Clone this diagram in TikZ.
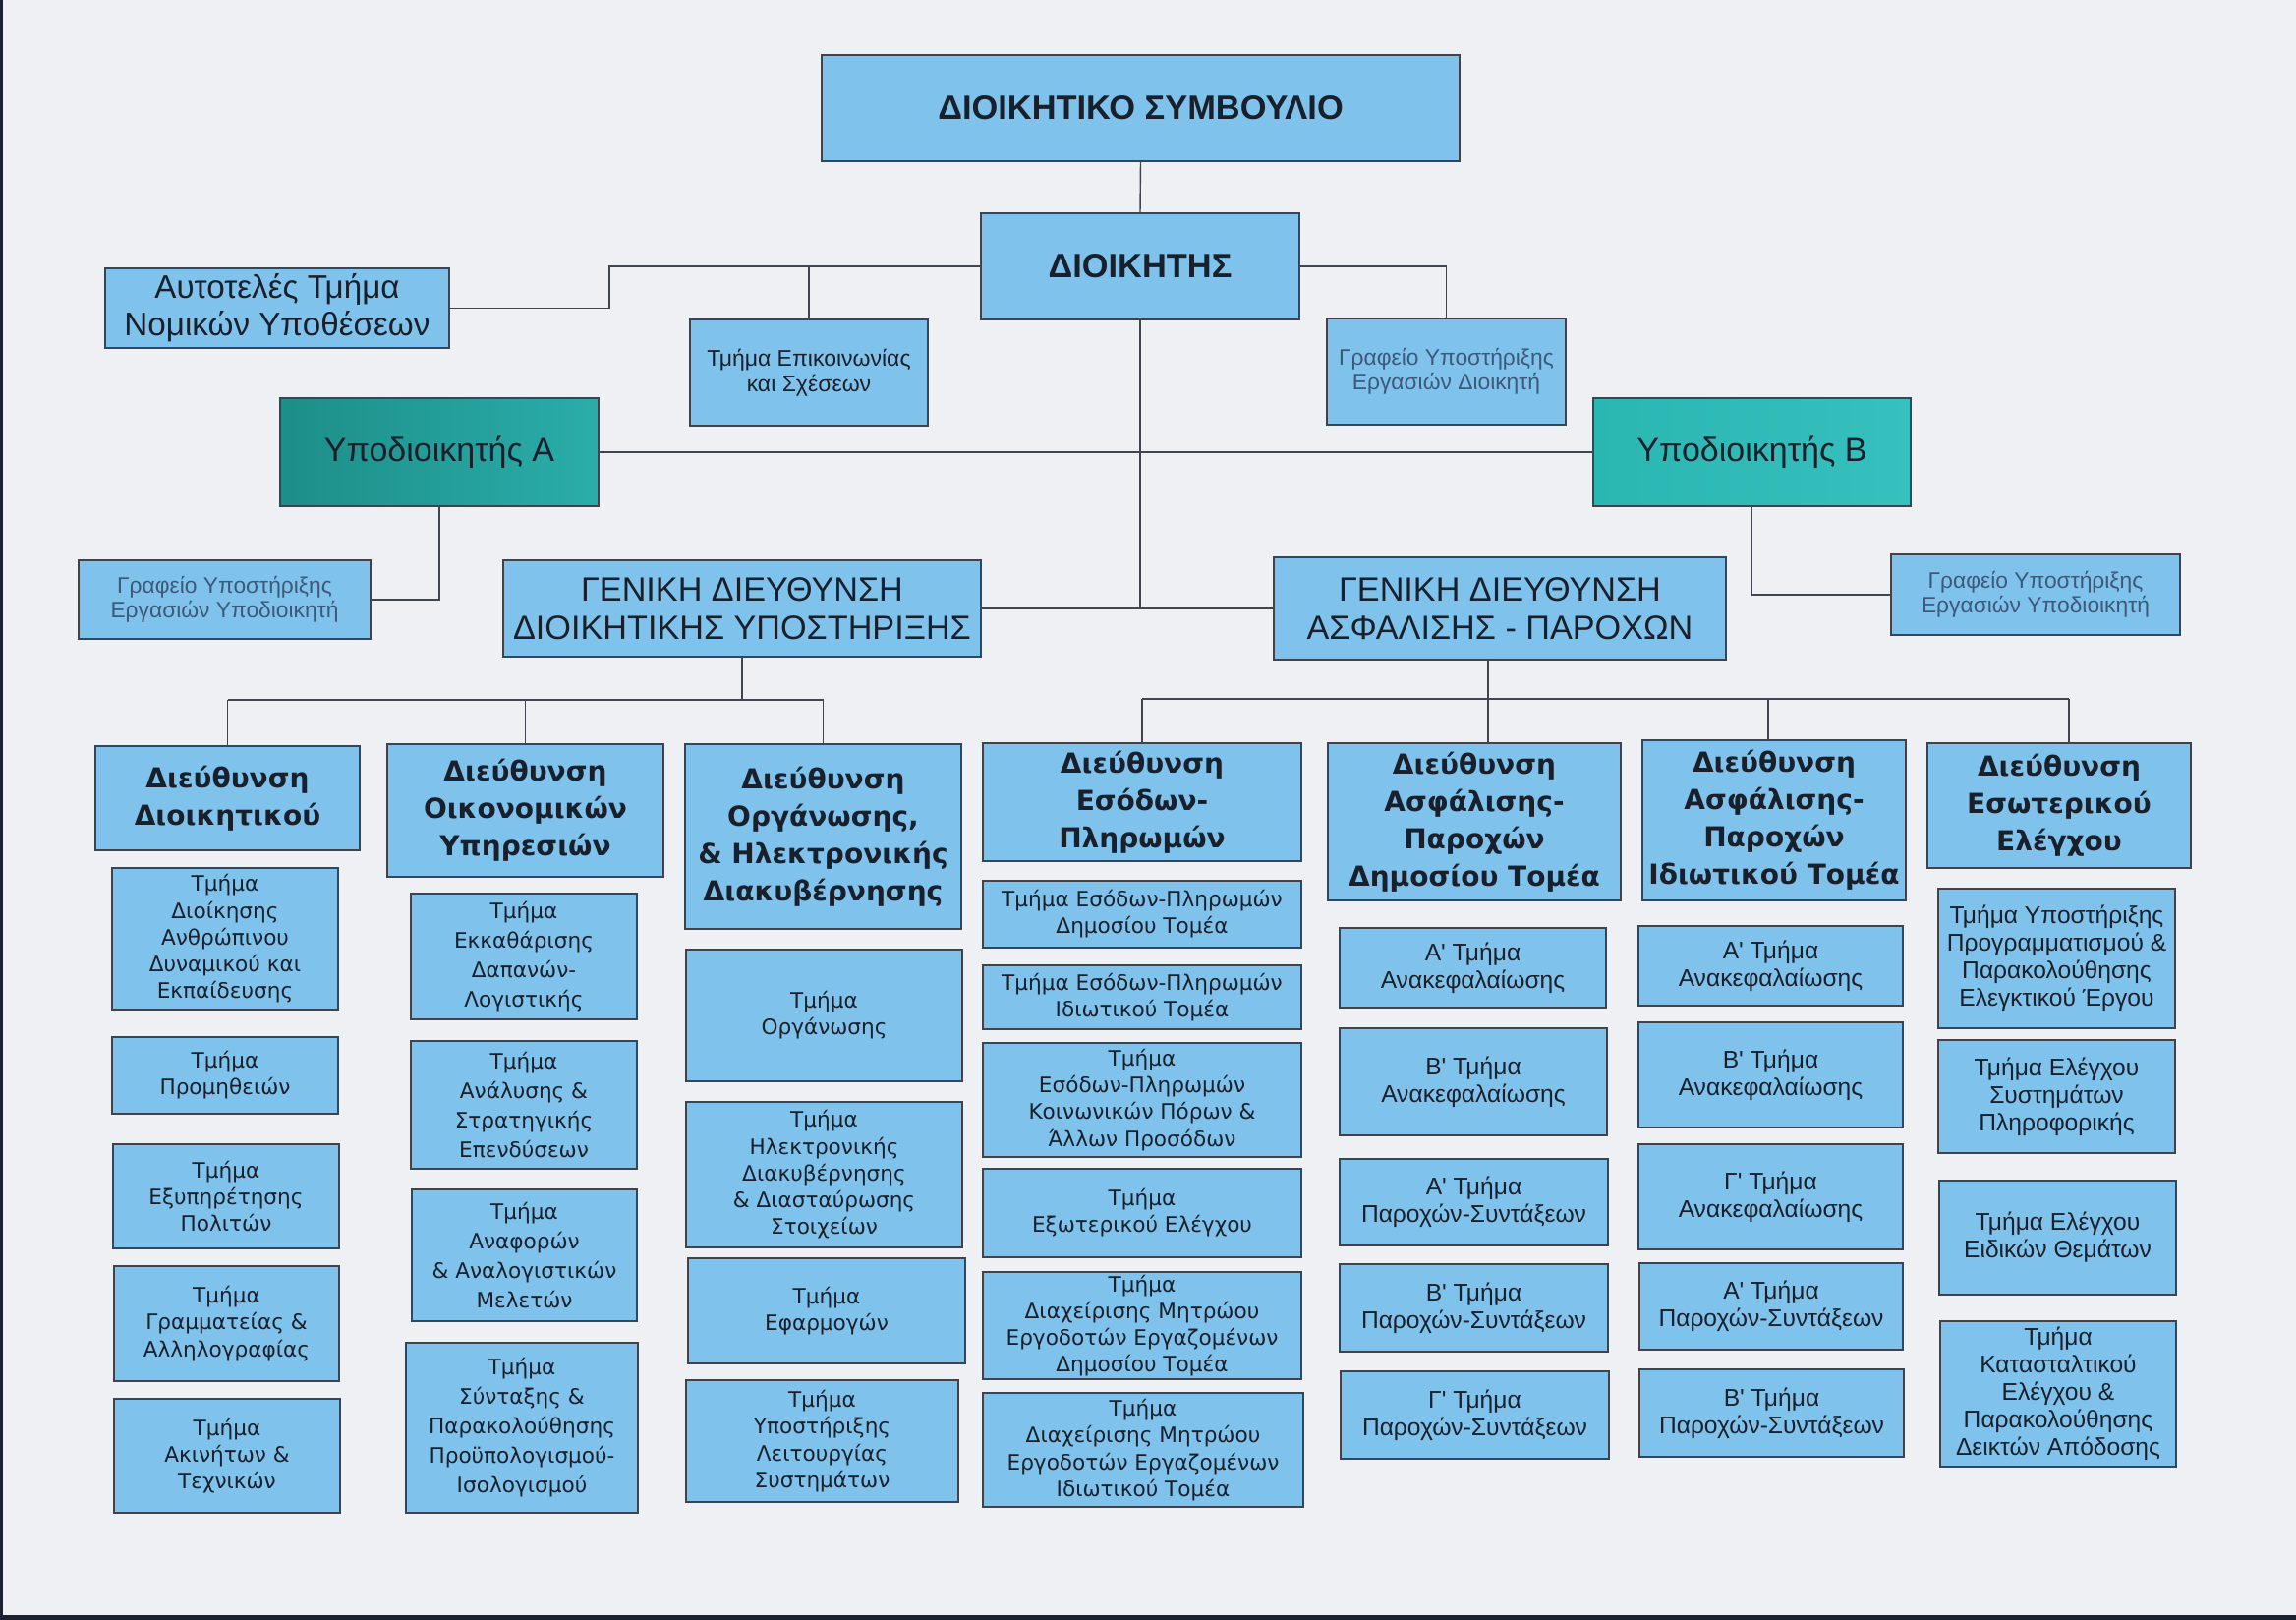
\documentclass[tikz,border=0pt]{standalone}
\usepackage{fontspec}
\setmainfont{Liberation Sans}[Ligatures=TeXOff]
\newfontfamily\dv{DejaVu Sans}[Ligatures=TeXOff]
\definecolor{bg}{HTML}{EEF0F4}
\definecolor{boxblue}{HTML}{7FC3EC}
\definecolor{bord}{HTML}{3C4450}
\definecolor{lnc}{HTML}{3F4650}
\definecolor{txt}{HTML}{1A202B}
\definecolor{graytxt}{HTML}{3D5878}
\definecolor{edge}{HTML}{1C2230}
\definecolor{ta1}{HTML}{1D8E88}
\definecolor{ta2}{HTML}{2AADAA}
\definecolor{tb1}{HTML}{2AB6B1}
\definecolor{tb2}{HTML}{36C0BE}
\tikzset{
  bx/.style={draw=bord, line width=0.8pt, fill=boxblue, inner sep=0pt, outer sep=0pt, align=center, text=txt},
  ln/.style={draw=lnc, line width=0.7pt},
  topb/.style={bx, font=\bfseries\fontsize{17.2}{19}\selectfont},
  gen/.style={bx, font=\fontsize{17.1}{19.5}\selectfont},
  aut/.style={bx, font=\fontsize{16.6}{19}\selectfont},
  small/.style={bx, font=\fontsize{11.5}{12.9}\selectfont},
  graf/.style={bx, text=graytxt, font=\fontsize{11.4}{12.7}\selectfont},
  ypod/.style={bx, font=\fontsize{17}{19}\selectfont},
  dir/.style={bx, font=\dv\bfseries\fontsize{14}{19}\selectfont},
  depv/.style={bx, font=\dv\fontsize{10.8}{13.6}\selectfont},
  depw/.style={bx, font=\dv\fontsize{10.8}{15}\selectfont},
  depa/.style={bx, font=\fontsize{12.3}{14}\selectfont},
}
% \bx[style]{name}{x1}{y1}{x2}{y2}{text}
\newcommand\bx[7][]{%
  \node[#1, minimum width={(#5-#3)*0.5pt}, minimum height={(#6-#4)*0.5pt}]
    (#2) at ({(#3+#5)/2},{(#4+#6)/2}) {#7};}
\begin{document}
\begin{tikzpicture}[x=0.5pt,y=-0.5pt]
\useasboundingbox (0,0) rectangle (2336,1648);
\fill[bg] (0,0) rectangle (2336,1648);
\fill[edge] (0,0) rectangle (3,1648);
\fill[edge] (0,1643) rectangle (2336,1648);

% top level
\bx[topb]{ds}{836}{56}{1485}{164}{ΔΙΟΙΚΗΤΙΚΟ ΣΥΜΒΟΥΛΙΟ}
\bx[topb]{dk}{998}{217}{1322}{325}{ΔΙΟΙΚΗΤΗΣ}
\bx[aut]{aut}{107}{273}{457}{354}{Αυτοτελές Τμήμα\\Νομικών Υποθέσεων}
\bx[small]{epik}{702}{325}{944}{433}{Τμήμα Επικοινωνίας\\και Σχέσεων}
\bx[graf]{gfd}{1350}{324}{1593}{432}{Γραφείο Υποστήριξης\\Εργασιών Διοικητή}
\bx[ypod, left color=ta1, right color=ta2]{ya}{285}{405}{609}{515}{Υποδιοικητής Α}
\bx[ypod, left color=tb1, right color=tb2]{yb}{1621}{405}{1944}{515}{Υποδιοικητής Β}
\bx[graf]{gfa}{80}{570}{377}{650}{Γραφείο Υποστήριξης\\Εργασιών Υποδιοικητή}
\bx[graf]{gfb}{1924}{564}{2218}{646}{Γραφείο Υποστήριξης\\Εργασιών Υποδιοικητή}
\bx[gen]{gda}{512}{570}{998}{668}{ΓΕΝΙΚΗ ΔΙΕΥΘΥΝΣΗ\\ΔΙΟΙΚΗΤΙΚΗΣ ΥΠΟΣΤΗΡΙΞΗΣ}
\bx[gen]{gdb}{1296}{567}{1756}{671}{ΓΕΝΙΚΗ ΔΙΕΥΘΥΝΣΗ\\ΑΣΦΑΛΙΣΗΣ - ΠΑΡΟΧΩΝ}

% directorates
\bx[dir]{D1}{97}{759}{366}{865}{Διεύθυνση\\Διοικητικού}
\bx[dir]{D2}{394}{757}{675}{892}{Διεύθυνση\\Οικονομικών\\Υπηρεσιών}
\bx[dir]{D3}{697}{757}{978}{945}{Διεύθυνση\\Οργάνωσης,\\\& Ηλεκτρονικής\\Διακυβέρνησης}
\bx[dir]{D4}{1000}{756}{1324}{876}{Διεύθυνση\\Εσόδων-\\Πληρωμών}
\bx[dir]{D5}{1351}{756}{1649}{916}{Διεύθυνση\\Ασφάλισης-\\Παροχών\\Δημοσίου Τομέα}
\bx[dir]{D6}{1671}{753}{1939}{916}{Διεύθυνση\\Ασφάλισης-\\Παροχών\\Ιδιωτικού Τομέα}
\bx[dir]{D7}{1961}{756}{2229}{883}{Διεύθυνση\\Εσωτερικού\\Ελέγχου}

% column 1
\bx[depv]{d1a}{114}{883}{344}{1027}{Τμήμα\\Διοίκησης\\Ανθρώπινου\\Δυναμικού και\\Εκπαίδευσης}
\bx[depv]{d1b}{114}{1055}{344}{1133}{Τμήμα\\Προμηθειών}
\bx[depv]{d1c}{115}{1164}{345}{1270}{Τμήμα\\Εξυπηρέτησης\\Πολιτών}
\bx[depv]{d1d}{116}{1288}{345}{1405}{Τμήμα\\Γραμματείας \&\\Αλληλογραφίας}
\bx[depv]{d1e}{116}{1423}{346}{1539}{Τμήμα\\Ακινήτων \&\\Τεχνικών}
% column 2
\bx[depw]{d2a}{418}{909}{648}{1037}{Τμήμα\\Εκκαθάρισης\\Δαπανών-\\Λογιστικής}
\bx[depw]{d2b}{418}{1059}{648}{1189}{Τμήμα\\Ανάλυσης \&\\Στρατηγικής\\Επενδύσεων}
\bx[depw]{d2c}{419}{1210}{648}{1344}{Τμήμα\\Αναφορών\\\& Αναλογιστικών\\Μελετών}
\bx[depw]{d2d}{413}{1366}{649}{1539}{Τμήμα\\Σύνταξης \&\\Παρακολούθησης\\Προϋπολογισμού-\\Ισολογισμού}
% column 3
\bx[depv]{d3a}{698}{966}{979}{1100}{Τμήμα\\Οργάνωσης}
\bx[depv]{d3b}{698}{1121}{979}{1269}{Τμήμα\\Ηλεκτρονικής\\Διακυβέρνησης\\\& Διασταύρωσης\\Στοιχείων}
\bx[depv]{d3c}{700}{1280}{982}{1387}{Τμήμα\\Εφαρμογών}
\bx[depv]{d3d}{698}{1404}{975}{1528}{Τμήμα\\Υποστήριξης\\Λειτουργίας\\Συστημάτων}
% column 4
\bx[depv]{d4a}{1000}{896}{1324}{964}{Τμήμα Εσόδων-Πληρωμών\\Δημοσίου Τομέα}
\bx[depv]{d4b}{1000}{982}{1324}{1047}{Τμήμα Εσόδων-Πληρωμών\\Ιδιωτικού Τομέα}
\bx[depv]{d4c}{1000}{1061}{1324}{1177}{Τμήμα\\Εσόδων-Πληρωμών\\Κοινωνικών Πόρων \&\\Άλλων Προσόδων}
\bx[depv]{d4d}{1000}{1189}{1324}{1279}{Τμήμα\\Εξωτερικού Ελέγχου}
\bx[depv]{d4e}{1000}{1294}{1324}{1403}{Τμήμα\\Διαχείρισης Μητρώου\\Εργοδοτών Εργαζομένων\\Δημοσίου Τομέα}
\bx[depv]{d4f}{1000}{1417}{1326}{1533}{Τμήμα\\Διαχείρισης Μητρώου\\Εργοδοτών Εργαζομένων\\Ιδιωτικού Τομέα}
% column 5
\bx[depa]{d5a}{1363}{944}{1634}{1025}{Α' Τμήμα\\Ανακεφαλαίωσης}
\bx[depa]{d5b}{1363}{1046}{1635}{1155}{Β' Τμήμα\\Ανακεφαλαίωσης}
\bx[depa]{d5c}{1363}{1179}{1636}{1267}{Α' Τμήμα\\Παροχών-Συντάξεων}
\bx[depa]{d5d}{1363}{1286}{1636}{1375}{Β' Τμήμα\\Παροχών-Συντάξεων}
\bx[depa]{d5e}{1364}{1395}{1637}{1484}{Γ' Τμήμα\\Παροχών-Συντάξεων}
% column 6
\bx[depa]{d6a}{1667}{942}{1936}{1023}{Α' Τμήμα\\Ανακεφαλαίωσης}
\bx[depa]{d6b}{1667}{1040}{1936}{1147}{Β' Τμήμα\\Ανακεφαλαίωσης}
\bx[depa]{d6c}{1667}{1164}{1936}{1271}{Γ' Τμήμα\\Ανακεφαλαίωσης}
\bx[depa]{d6d}{1668}{1285}{1936}{1373}{Α' Τμήμα\\Παροχών-Συντάξεων}
\bx[depa]{d6e}{1668}{1393}{1937}{1482}{Β' Τμήμα\\Παροχών-Συντάξεων}
% column 7
\bx[depa]{d7a}{1972}{904}{2213}{1046}{Τμήμα Υποστήριξης\\Προγραμματισμού \&\\Παρακολούθησης\\Ελεγκτικού Έργου}
\bx[depa]{d7b}{1972}{1058}{2213}{1173}{Τμήμα Ελέγχου\\Συστημάτων\\Πληροφορικής}
\bx[depa]{d7c}{1973}{1201}{2214}{1317}{Τμήμα Ελέγχου\\Ειδικών Θεμάτων}
\bx[depa]{d7d}{1974}{1344}{2214}{1492}{Τμήμα\\Κατασταλτικού\\Ελέγχου \&\\Παρακολούθησης\\Δεικτών Απόδοσης}

% connectors (top)
\coordinate (j1) at (620,271);
\coordinate (tr) at (1160,619);
\draw[ln] (ds.south) -- (dk.north);
\draw[ln] (dk.west) -- (j1) |- (aut.east);
\draw[ln] (epik.north) -- (epik.north |- dk.west);
\draw[ln] (dk.east) -| (gfd.north);
\draw[ln] (dk.south) -- (tr);
\draw[ln] (ya.east) -- (yb.west);
\draw[ln] (gda.east) -- (gdb.west);
\draw[ln] (ya.south) |- (gfa.east);
\draw[ln] (yb.south) |- (gfb.west);

% bus A
\coordinate (bA) at (755,712);
\draw[ln] (gda.south) -- (gda.south |- bA);
\draw[ln] (D1.north |- bA) -- (D3.north |- bA);
\draw[ln] (D1.north) -- (D1.north |- bA);
\draw[ln] (D2.north) -- (D2.north |- bA);
\draw[ln] (D3.north) -- (D3.north |- bA);

% bus B
\coordinate (q4) at (1162,711);
\coordinate (q5) at (1514,711);
\coordinate (q6) at (1799,711);
\coordinate (q7) at (2105,711);
\draw[ln] (q4) -- (q7);
\draw[ln] (gdb.south -| q5) -- (q5 |- D5.north);
\draw[ln] (q4) -- (q4 |- D4.north);
\draw[ln] (q6) -- (q6 |- D6.north);
\draw[ln] (q7) -- (q7 |- D7.north);
\end{tikzpicture}
\end{document}
